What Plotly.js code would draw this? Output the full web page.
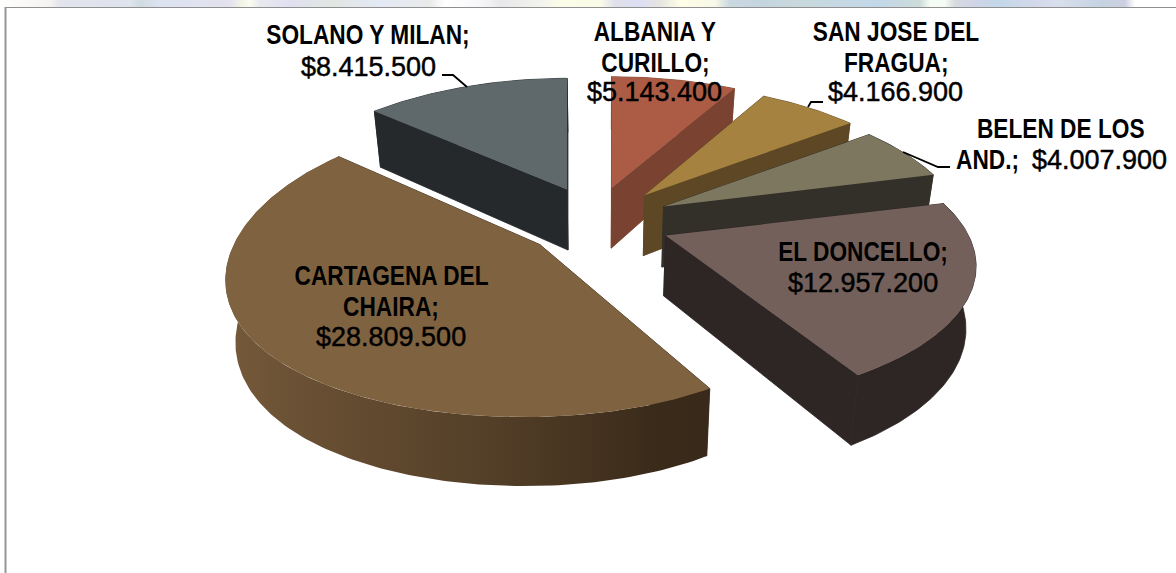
<!DOCTYPE html>
<html>
<head>
<meta charset="utf-8">
<script src="https://cdn.plot.ly/plotly-3.0.1.min.js"></script>
<style>html,body{margin:0;padding:0;background:#fff;overflow:hidden}#c{width:1176px;height:573px}</style>
</head>
<body>
<div id="c"></div>
<script>
// Data, clockwise from 12 o'clock
const categories = ["ALBANIA Y CURILLO", "SAN JOSE DEL FRAGUA", "BELEN DE LOS AND.", "EL DONCELLO", "CARTAGENA DEL CHAIRA", "SOLANO Y MILAN"];
const values = [5143400, 4166900, 4007900, 12957200, 28809500, 8415500];

// Styles
const topColors = ["#ac5c45", "#a5823f", "#7c775e", "#74605a", "#7f6240", "#5f686b"];
const wallColors = ["#7a4230", "#5e4725", "#33302a", "#2e2525", "#38291a", "#25292c"];
const cartagenaWallScale = [[0, "#75593a"], [0.25, "#644c31"], [0.6, "#503c26"], [0.9, "#392a19"], [1, "#38291a"]];

// Per-slice projection fit
const rimShiftX = [0, 0, 0, 0, -17, 0];
const sliceRx = [304, 295, 295, 303, 289, 302];
const sliceRy = [134, 134, 134, 134, 145, 129];
const sliceKx = [0.237, 0.237, 0.237, 0.22, 0.237, 0.237];
const sliceKy = [0.208, 0.208, 0.208, 0.208, 0.16, 0.16];
const apexShiftX = [-4, -1, 0, 0, 0, 0];

// Label lines
const nameLines = [["ALBANIA Y", "CURILLO;"], ["SAN JOSE DEL", "FRAGUA;"], ["BELEN DE LOS"], ["EL DONCELLO;"], ["CARTAGENA DEL", "CHAIRA;"], ["SOLANO Y MILAN;"]];
const nameX = [655, 896, 1061, 863, 391, 368];
const nameY = [32, 32, 129, 252, 276, 35];
const valueX = [654, 895, 1099, 863, 391, 368];
const valueY = [92, 92, 160, 283, 337, 67];
const narrowing = 0.84;

// Leader lines
const leaderX = [[442, 453, 467], [823, 811, 808], [903, 938, 950]];
const leaderY = [[75, 75, 87], [102, 102, 107], [152, 167, 167]];

// Backdrop strip
const stripStops = [[0,"#ffffff"],[50,"#f5f3f0"],[60,"#e2e3ec"],[130,"#dfe3ee"],[140,"#cfdce0"],[160,"#dde3f2"],[230,"#e3e2ee"],[240,"#f0f2e8"],[250,"#fbfbf0"],[260,"#e8e9ef"],[290,"#e0e0f2"],[330,"#e2e6e2"],[380,"#e3e9f5"],[430,"#eaeaea"],[445,"#ffffff"],[480,"#f8f6fa"],[500,"#e8e8ea"],[540,"#f2f2ee"],[560,"#fbfde8"],[600,"#fbfbe8"],[615,"#e0e0ea"],[640,"#dedff4"],[660,"#e5e5e0"],[680,"#fdfde8"],[715,"#f8f8e8"],[730,"#c9d8e0"],[760,"#c5d5e0"],[800,"#c8d8dc"],[880,"#c2d8ea"],[920,"#cddcd8"],[930,"#f5fbf5"],[945,"#f5fbf5"],[955,"#d8dae0"],[975,"#d0d4e8"],[1000,"#c2d8ea"],[1030,"#d2d8ea"],[1060,"#d8deec"],[1100,"#c5d3e2"],[1125,"#ccd0e0"],[1135,"#ffffff"],[1176,"#ffffff"]];

// Projection of the tilted pie
const W = 1176, H = 573;
const cx = 597, cy = 222, pullX = 74, pullY = 35.5;
const depth = 60.5, bottomScale = 0.973, vanishX = 600;
const total = values.reduce((a, b) => a + b, 0);

function rimPoint(theta, ax, ay, i) {
  const u = Math.sin(theta), v = -Math.cos(theta);
  return [ax + rimShiftX[i] + sliceRx[i] * u / (1 - sliceKx[i] * v),
          ay + sliceRy[i] * v / (1 - sliceKy[i] * v), 1 / (1 - sliceKy[i] * v)];
}
function lower(p, s) {
  return [vanishX + (p[0] - vanishX) * bottomScale, p[1] + depth * Math.pow(s, 0.75)];
}

let acc = 0;
const slices = values.map((val, i) => {
  const a0 = acc / total * 2 * Math.PI;
  acc += val;
  const a1 = acc / total * 2 * Math.PI;
  const mid = (a0 + a1) / 2;
  const ax = cx + apexShiftX[i] + pullX * Math.sin(mid), ay = cy - pullY * Math.cos(mid);
  const n = Math.max(8, Math.round((a1 - a0) * 60));
  const rim = [];
  for (let j = 0; j <= n; j++) rim.push(rimPoint(a0 + (a1 - a0) * j / n, ax, ay, i));
  return {i, mid, ax, ay, rim};
});

function poly(pts, color, extra, lw) {
  return Object.assign({
    type: "scatter", mode: "lines", x: pts.map(p => p[0]).concat(pts[0][0]), y: pts.map(p => p[1]).concat(pts[0][1]),
    fill: "toself", fillcolor: color, line: {width: lw || 0, color: color}, hoverinfo: "skip", showlegend: false
  }, extra || {});
}

const traces = [];
// backdrop strip
traces.push(poly([[0, 0], [W, 0], [W, 7], [0, 7]], "#ffffff", {
  fillgradient: {type: "horizontal", colorscale: stripStops.map(s => [s[0] / W, s[1]])}
}));

slices.slice().sort((a, b) => -Math.cos(a.mid) - -Math.cos(b.mid)).forEach(s => {
  const wc = wallColors[s.i], apex = [s.ax, s.ay, 1];
  const first = s.rim[0], last = s.rim[s.rim.length - 1];
  const lowApex = lower(apex, 1);
  const isGradient = categories[s.i].startsWith("CARTAGENA");
  // radial walls
  traces.push(poly([apex, first, lower(first, first[2]), lowApex], wc, null, 0.8));
  traces.push(poly([apex, last, lower(last, last[2]), lowApex], wc, null, 0.8));
  // rim wall
  const low = s.rim.map(p => lower(p, p[2])).reverse();
  traces.push(poly(s.rim.concat(low), wc,
    isGradient ? {fillgradient: {type: "horizontal", colorscale: cartagenaWallScale}} : null,
    isGradient ? 0 : 0.8));
  // top face
  traces.push(poly([apex].concat(s.rim), topColors[s.i]));
});

// leader lines
leaderX.forEach((lx, i) => traces.push({
  type: "scatter", mode: "lines", x: lx, y: leaderY[i], line: {color: "#000", width: 1.8},
  hoverinfo: "skip", showlegend: false
}));

// labels
const fmt = n => "$" + n.toLocaleString("de-DE");
const nameFont = {family: "'Liberation Sans', sans-serif", size: 27, color: "#000", weight: 700};
const valueFont = {family: "'Liberation Sans', sans-serif", size: 27, color: "#000"};
const ann = [];
const label = (t, x, y, font) => ann.push({text: t, x, y, xref: "x", yref: "y", showarrow: false, font, xanchor: "center", yanchor: "middle"});
values.forEach((v, i) => {
  nameLines[i].forEach((ln, j) => label(ln, nameX[i], nameY[i] + j * 30.5, nameFont));
  label(fmt(v), valueX[i], valueY[i], valueFont);
});
label("AND.;", 987, 160, nameFont);

const layout = {
  width: W, height: H, margin: {l: 0, r: 0, t: 0, b: 0, pad: 0},
  paper_bgcolor: "#fff", plot_bgcolor: "#fff", showlegend: false,
  xaxis: {range: [0, W], visible: false, fixedrange: true},
  yaxis: {range: [H, 0], visible: false, fixedrange: true},
  annotations: ann,
  shapes: [
    {type: "line", xref: "x", yref: "y", x0: 5.5, x1: W, y0: 7.5, y1: 7.5, line: {color: "#8f8f8f", width: 1.2}, layer: "above"},
    {type: "line", xref: "x", yref: "y", x0: 5.5, x1: 5.5, y0: 7, y1: H, line: {color: "#969696", width: 2}, layer: "above"}
  ]
};
Plotly.newPlot("c", traces, layout, {displayModeBar: false, responsive: false}).then(() => {
  document.querySelectorAll(".annotation-text").forEach(t => {
    if (String(t.style.fontWeight) === "700" || t.style.fontWeight === "bold") {
      t.setAttribute("textLength", (t.getComputedTextLength() * narrowing).toFixed(1));
      t.setAttribute("lengthAdjust", "spacingAndGlyphs");
    } else {
      t.style.stroke = "#000";
      t.style.strokeWidth = "0.45px";
    }
  });
});
</script>
</body>
</html>
